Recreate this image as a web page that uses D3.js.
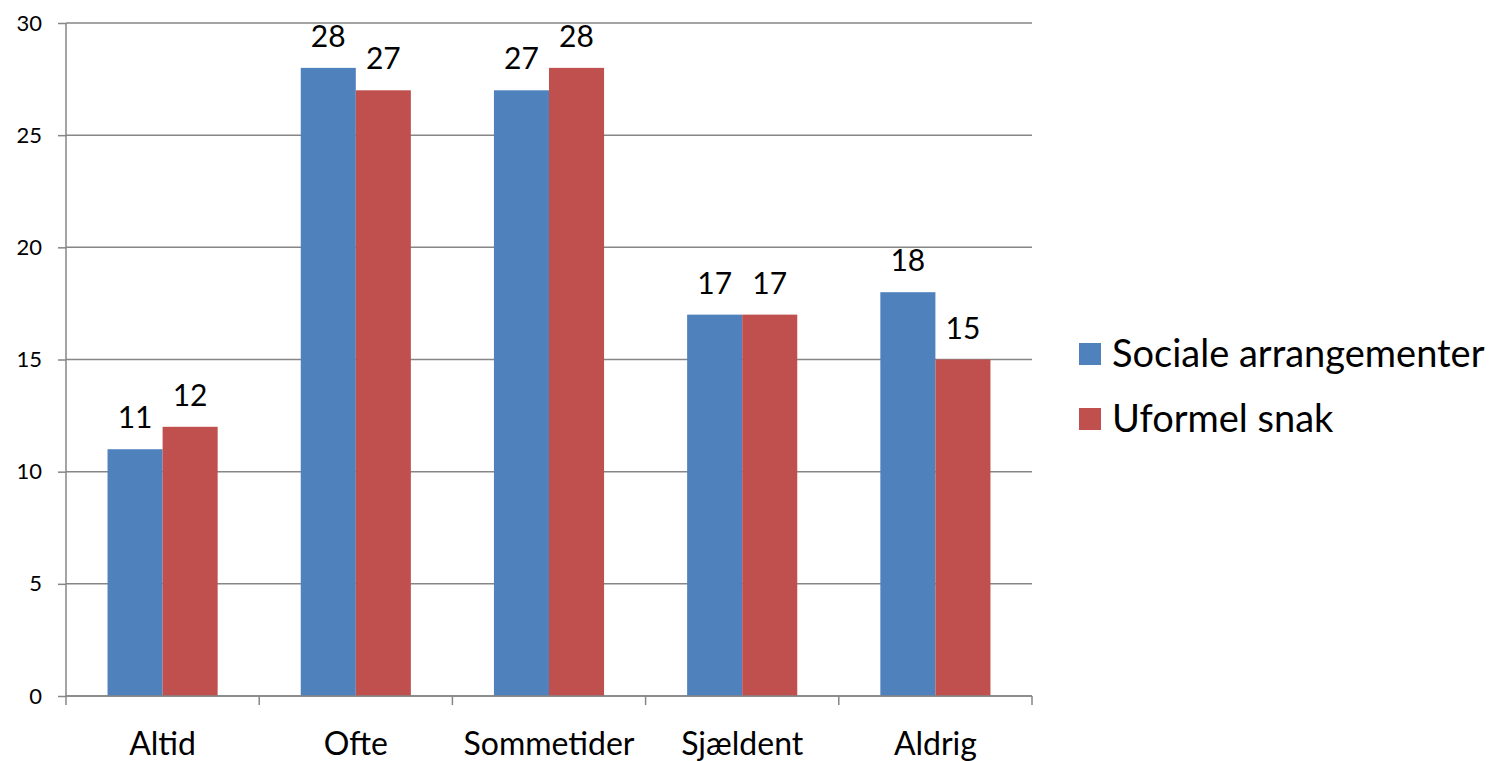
<!DOCTYPE html>
<html>
<head>
<meta charset="utf-8">
<script src="https://cdn.jsdelivr.net/npm/d3@7"></script>
<style>
  body { margin: 0; background: #fff; }
  text { font-family: Lato, "Open Sans", sans-serif; fill: #000; }
</style>
</head>
<body>
<div id="chart"></div>
<script>
// data
const categories = ["Altid", "Ofte", "Sommetider", "Sjældent", "Aldrig"];
const seriesNames = ["Sociale arrangementer", "Uformel snak"];
const sociale = [11, 28, 27, 17, 18];
const uformel = [12, 27, 28, 17, 15];
const yTicks = [0, 5, 10, 15, 20, 25, 30];
const colors = ["#4f81bd", "#c0504d"];

const W = 1504, H = 761;
const margin = {top: 23, left: 66, right: 472, bottom: 65};
const width = W - margin.left - margin.right,
      height = H - margin.top - margin.bottom;

const svg = d3.select("#chart").append("svg")
  .attr("width", W).attr("height", H);
const g = svg.append("g")
  .attr("transform", `translate(${margin.left},${margin.top})`);

const x = d3.scaleBand().domain(categories).range([0, width]).paddingInner(0).paddingOuter(0);
const groupPad = 0.215;
const x1 = d3.scaleBand().domain([0, 1])
  .range([x.bandwidth() * groupPad, x.bandwidth() * (1 - groupPad)]);
const y = d3.scaleLinear().domain([0, 30]).range([height, 0]);

// gridlines
g.selectAll("line.grid").data(yTicks).join("line")
  .attr("class", "grid")
  .attr("x1", 0).attr("x2", width)
  .attr("y1", d => y(d)).attr("y2", d => y(d))
  .attr("stroke", "#868686").attr("stroke-width", 1.5);

// bars
const rows = categories.map((c, i) => ({cat: c, vals: [sociale[i], uformel[i]]}));
const grp = g.selectAll("g.cat").data(rows).join("g")
  .attr("transform", d => `translate(${x(d.cat)},0)`);
grp.selectAll("rect").data(d => d.vals.map((v, k) => ({v, k}))).join("rect")
  .attr("x", d => x1(d.k))
  .attr("y", d => y(d.v))
  .attr("width", x1.bandwidth())
  .attr("height", d => height - y(d.v))
  .attr("fill", d => colors[d.k]);
grp.selectAll("text.val").data(d => d.vals.map((v, k) => ({v, k}))).join("text")
  .attr("class", "val")
  .attr("x", d => x1(d.k) + x1.bandwidth() / 2)
  .attr("y", d => y(d.v) - 21)
  .attr("text-anchor", "middle")
  .attr("font-size", "30px")
  .text(d => d.v);

// y axis
const yAxis = g.append("g")
  .call(d3.axisLeft(y).tickValues(yTicks).tickSize(8).tickPadding(16));
yAxis.select(".domain").attr("stroke", "#868686").attr("stroke-width", 1.5).attr("d", `M0,${height}V0`);
yAxis.selectAll(".tick line").attr("stroke", "#868686").attr("stroke-width", 1.5);
yAxis.selectAll(".tick text").attr("font-size", "22px").attr("font-family", "Lato, sans-serif").attr("fill", "#000");

// x axis
const xAxis = g.append("g").attr("transform", `translate(0,${height})`);
xAxis.append("line").attr("x1", 0).attr("x2", width)
  .attr("stroke", "#868686").attr("stroke-width", 1.5);
const bounds = categories.map(c => x(c)).concat([width]);
xAxis.selectAll("line.tk").data(bounds).join("line")
  .attr("class", "tk")
  .attr("x1", d => d).attr("x2", d => d)
  .attr("y1", 0).attr("y2", 9)
  .attr("stroke", "#868686").attr("stroke-width", 1.5);
xAxis.selectAll("text").data(categories).join("text")
  .attr("x", d => x(d) + x.bandwidth() / 2)
  .attr("y", 59)
  .attr("text-anchor", "middle")
  .attr("font-size", "32px")
  .text(d => d);

// legend
const legend = svg.append("g").attr("transform", "translate(1079,343)");
const li = legend.selectAll("g").data(seriesNames).join("g")
  .attr("transform", (d, i) => `translate(0,${i * 65})`);
li.append("rect").attr("width", 22).attr("height", 22).attr("fill", (d, i) => colors[i]);
li.append("text").attr("x", 33).attr("y", 24).attr("font-size", "38px").text(d => d);
</script>
</body>
</html>
